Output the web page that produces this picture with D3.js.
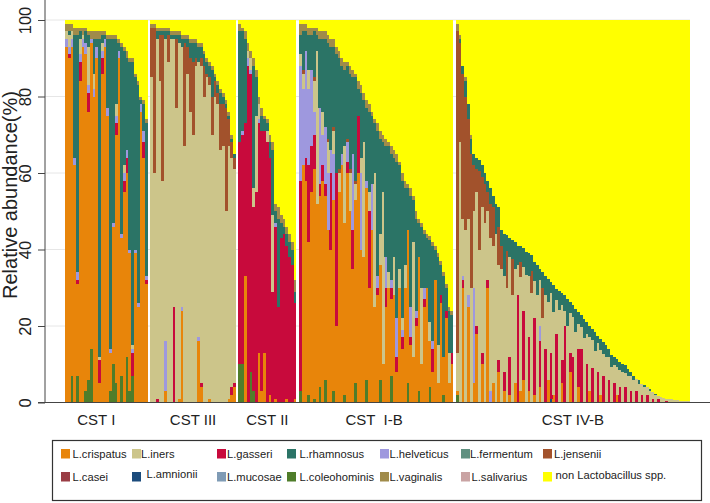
<!DOCTYPE html>
<html>
<head>
<meta charset="utf-8">
<script src="https://cdn.jsdelivr.net/npm/d3@7"></script>
<style>
body { margin: 0; background: #fff; }
svg { display: block; font-family: "Liberation Sans", Arial, sans-serif; }
</style>
</head>
<body>
<script>
// species in legend order (row by row) + one-letter codes used in the bar strings
var species = ["L.crispatus", "L.iners", "L.gasseri", "L.rhamnosus", "L.helveticus", "L.fermentum", "L.jensenii",
               "L.casei", "L.amnionii", "L.mucosae", "L.coleohominis", "L.vaginalis", "L.salivarius", "non Lactobacillus spp."];
var codes = ["C", "I", "G", "R", "H", "F", "J", "K", "A", "M", "O", "V", "S", "N"];
var colors = ["#e8850a", "#ccc58a", "#c80a3c", "#2b7466", "#9e98de", "#5f9080", "#a2522c",
              "#9a3d45", "#1b4b7c", "#7f9bb5", "#4f7d2a", "#a08b4a", "#c9a3a3", "#ffff00"];
// bottom -> top
var stackOrder = ["O", "A", "C", "G", "H", "I", "J", "R", "F", "M", "K", "S", "V", "N"];

var groups = ["CST I", "CST III", "CST II", "CST  I-B", "CST IV-B"];

// each sample: "<code><percent> ...", the rest up to 100 is non Lactobacillus
var cst1 = ["C93 H2 I2 V2", "C90 G1 H2 I3 R1 V2", "O7 C86 H2 I2 V2", "C62 H2 R32 V2", "O7 C24 G1 H2 R62 V2",
  "C84 G5 H2 I4 R2 V1", "C93 H2 I1 V2", "O3 C88 H3 R3 V1", "O6 C70 G5 H2 I10 R3 V1", "O14 C80 H1 V2",
  "C80 H2 I4 R9 V2", "C90 H3 R2 V2", "C5 G6 I1 R83 V2", "C86 G4 H2 I2 R2 V1", "C93 H2 R1 V1",
  "C75 H2 R18 V1", "O3 C10 H1 R81 V1", "O10 C36 H1 R48 V1", "O5 C65 G3 H2 I3 R17 V1", "C90 H2 R2 V1",
  "O7 C36 H1 R49 V1", "C55 G3 H2 I2 R30 V1", "O12 C48 G4 H2 R24 V2", "O3 C36 H1 R49 V1", "O7 G6 H1 I1 R74 V1",
  "C39 H1 R45 V1", "C25 H1 R57 V1", "C76 H2 R1 V1", "C64 G4 H3 R7 V1", "C31 G1 H1 R40 V1"];

var cst3 = ["I85 J13 V1", "I60 J38 V1", "G1 I94 R2 V1", "I84 J12 R1 V1", "I58 J38 R1 V1",
  "C3 H13 I79 R2 V1", "I89 J7 R1 V1", "I95 R1 V1", "G25 I70 R1 V1", "I77 J18 R1 V1",
  "C1 I93 R2 V1", "C24 H1 I68 R2 V1", "I67 J27 R1 V1", "I86 J7 R2 V1", "I76 J14 R4 V1",
  "I70 J19 R5 V1", "I88 J2 R4 V1", "C16 H1 I72 R4 V1", "C4 G1 I83 J2 R3 V1", "I80 J8 R3 V1",
  "I85 J1 R3 V1", "C1 I82 J2 R3 V1", "I70 J10 R7 V1", "I80 J4 R1 V1", "I78 J3 R2 V1",
  "I66 J12 R3 V1", "I67 J11 R2 V1", "I50 J27 R1 V1", "C1 I66 J7 R1 V1", "G2 C2 I60 J4 R1 V1",
  "C4 G1 I56 J3 R1"];

var cst2 = ["O10 G58 R29 V2", "O10 G60 H1 R26 V1", "C33 G40 R22 V2", "G88 H2 I2 V2", "O8 G78 H1 I3 V2",
  "O3 G48 I5 R32 V2", "G55 I20 R10 V2", "C13 G60 H1 I4 V2", "C3 G68 R4 V2", "C13 G58 R3 V1",
  "G68 I3 R2 V1", "C2 G62 R4 V2", "G29 I20 R17 V2", "C1 G45 H1 R3 V2", "G25 R23 V3",
  "G43 R4 V2", "G44 R2 V2", "C1 G40 R3 V2", "G38 R4 V2", "G36 R4 V2", "C1 G25 R3 V3"];

var cst1b = ["O3 G55 H30 I3 R5 V3", "C62 H20 I4 R10 J1 V2", "C58 G6 H28 R5 V2", "O2 C40 G20 H20 I5 R9 V2",
  "C55 G12 H20 R9 V2", "O1 C60 G9 H6 I8 R12 J1 V1", "C52 I40 R4 V2", "O4 C50 G3 H20 R18 V2",
  "C58 G4 H8 I6 R19 V2", "O6 C48 G3 H15 R23 V2", "C45 H15 I8 R25 J1 V2", "C40 G20 H6 R27 V2",
  "O3 C50 H12 I6 R21 J1 V2", "C20 G40 R31 V2", "C55 I5 R29 J1 V2", "C62 H3 R23 V2",
  "O2 C45 I20 R20 V2", "C60 G3 H5 R19 J1 V1", "C50 I10 R25 J1 V2", "C35 G10 H20 R20 V2",
  "O5 C48 I4 R27 J1 V1", "C60 G15 R7 V2", "C40 H20 I4 R17 V2", "C38 I30 R11 V2",
  "O6 C50 H2 R19 V2", "C30 G20 I5 R21 V2", "C45 H12 R18 V1", "C25 I35 R13 V1",
  "C28 G2 H3 R38 V2", "O6 C30 I8 R25 V2", "C10 I45 R13 V2", "C25 G5 H8 R29 V2",
  "C30 I4 R33 V1", "O7 C20 G3 H2 R33 V2", "C28 I10 R26 V2", "C8 G4 H10 R41 V2",
  "C30 I5 R27 V1", "C14 G3 H2 I3 R36 V2", "C30 I6 R20 V2", "O5 C40 R11 V1",
  "C15 G2 H8 R29 V2", "C12 I30 R11 V1", "C20 G2 H2 R24 V2", "O3 C35 R9 V1",
  "C10 I20 R16 V1", "C25 G2 H3 R14 V1", "C30 R13 V1", "O4 C12 I5 R21.5 V1",
  "C8 G6 H2 R25 V1", "C32 R8 V1", "C5 I10 R23 V1", "C26 G2 R8 V1",
  "O2 C10 R21 V1", "C22 G2 R6 V1", "C5 I8 R11 V1", "C10 G3 R10 V1"];

var cst4b = ["O2 C1 I10 J84 V2", "I68 J26 R1 V1", "C30 G2 H1 I15 J38 R2", "I45 J35 R4 V1", "C25 H3 I20 J26 R4",
  "I30 J35 R4 V1", "C5 H25 I20 J12 R3", "C18 G2 I35 J6 R3", "I40 J20.5 R3", "C10 G3 I38 J8 R3",
  "I47 J10 R3", "C30 G2 I18 J5 R3", "I40 H3 J9 R4", "C5 I36 J10 R3", "I44 R8",
  "C8 G3 I25 J10 R5", "I35 J6 R4", "C3 G5 I25 R11", "I30 J9.7 R4", "C2 G10 I26 R5",
  "I28 J9.5 R5", "C5 I30 R7", "G28 I8 R5", "C3 I29.8 J4 R4", "C6 G18 I11.5 R5",
  "I33.4 R6", "C3 G14 I16 R6", "I28.5 J6 R4", "C2 G20 I9.7 R5", "I28 R8",
  "C4 G12 H4 I12 R3", "I22 J8 R4", "G14 I14 R5", "C6 I20.4 R6", "G12 I15.5 R3 A1",
  "C2 I21.6 R7", "G18 I8.8 R3", "I24.2 R5", "C5 G6 I14.5 R3", "G20 I4 R4",
  "I20 R7", "C8 G5 I10.3 R3", "G12 I10.4 R3", "I18.5 R6", "C4 G10 I6.6 R3",
  "G14 I5.8 R3", "I16.9 R5", "G10 I8 R3", "C3 I14 R3", "G9 I7.3 R3",
  "I13.4 R5", "G8 I7.5 R2", "C2 I11.6 R3", "G7 I5.8 R3", "I12 R3",
  "G6 I6 R2", "I9.3 R3", "G5 I4.8 R2", "C2 I7.4 R2", "G4 I4.6 R2",
  "I8 R2", "G4 I3.7 R2", "I6.8 R2", "G3 I3.9 R1", "I6 R1",
  "G3 I3.2", "I4.8 R1", "G2 I2.9", "I4 R0.5", "G2 I2",
  "I3 R0.6", "G1 I1.7", "I2 R0.3", "G1 I0.8", "I1.4",
  "I1.2", "G0.5 I0.5", "I1", "I0.8", "I0.7",
  "I0.6", "I0.5", "I0.5", "I0.4", "I0.3"];

var groupBars = [cst1, cst3, cst2, cst1b, cst4b];
var yTicks = [0, 20, 40, 60, 80, 100];

//positioning/sizing
var W = 710, H = 503;
var plot = {left: 65, right: 690, top: 20, bottom: 402.5};
var labelNudge = [-10, 0, 0, -2, 0];

// build samples, with one empty slot between groups
var slots = [], samples = [];
groupBars.forEach(function(bars, g) {
  bars.forEach(function(s, i) {
    var d = {id: "g" + g + "_" + i, group: g};
    stackOrder.forEach(function(k) { d[k] = 0; });
    var tot = 0;
    s.split(" ").forEach(function(tok) {
      var v = +tok.slice(1);
      d[tok[0]] += v;
      tot += v;
    });
    d.N = Math.max(0, 100 - tot);
    samples.push(d);
    slots.push(d.id);
  });
  if (g < groupBars.length - 1) slots.push("gap" + g);
});

var x = d3.scaleBand().domain(slots).range([plot.left, plot.right]).padding(0);
var y = d3.scaleLinear().domain([0, 100]).range([plot.bottom, plot.top]);
var color = d3.scaleOrdinal().domain(codes).range(colors);

var svg = d3.select("body").append("svg")
    .attr("width", W)
    .attr("height", H);

// faint grid in the left margin
svg.append("g").selectAll("line")
   .data(yTicks.slice(1))
   .enter().append("line")
   .attr("x1", 45).attr("x2", plot.right)
   .attr("y1", d => y(d)).attr("y2", d => y(d))
   .attr("stroke", "#e6e6e6").attr("stroke-width", 1);

// stacked bars
var series = d3.stack().keys(stackOrder)(samples);
var bw = x.bandwidth();
svg.append("g")
   .attr("shape-rendering", "crispEdges")
   .selectAll("g")
   .data(series)
   .enter().append("g")
   .attr("fill", d => color(d.key))
   .selectAll("rect")
   .data(d => d.filter(p => p[1] - p[0] > 0))
   .enter().append("rect")
   .attr("x", d => x(d.data.id))
   .attr("width", bw + 0.2)
   .attr("y", d => y(d[1]))
   .attr("height", d => y(d[0]) - y(d[1]));

// axes
var axis_y = d3.axisLeft(y).tickValues(yTicks).tickSize(7).tickPadding(0);
var gy = svg.append("g")
   .attr("transform", "translate(45,0)")
   .call(axis_y);
gy.select(".domain").remove();
gy.selectAll(".tick line").attr("stroke", "#444");
gy.selectAll(".tick text")
  .attr("x", 0).attr("dy", 0)
  .attr("text-anchor", "middle")
  .attr("transform", "translate(-14,0) rotate(-90)")
  .attr("font-size", 16.5)
  .attr("font-family", "Liberation Sans, Arial, sans-serif")
  .attr("fill", "#222");

svg.append("line")
   .attr("x1", 45).attr("x2", 45)
   .attr("y1", 0).attr("y2", plot.bottom)
   .attr("stroke", "#444");
svg.append("line")
   .attr("x1", 38).attr("x2", W)
   .attr("y1", plot.bottom).attr("y2", plot.bottom)
   .attr("stroke", "#444");

svg.append("text")
   .attr("transform", "translate(17,195) rotate(-90)")
   .attr("text-anchor", "middle")
   .attr("font-size", 20)
   .attr("fill", "#222")
   .text("Relative abundance(%)");

// group labels
svg.append("g").selectAll("text")
   .data(groups)
   .enter().append("text")
   .attr("x", function(d, g) {
      var ids = samples.filter(s => s.group == g).map(s => s.id);
      return (x(ids[0]) + x(ids[ids.length - 1]) + bw) / 2 + labelNudge[g];
   })
   .attr("y", 425)
   .attr("text-anchor", "middle")
   .attr("font-size", 15)
   .attr("fill", "#222")
   .style("white-space", "pre")
   .text(d => d);

// legend
var legX = [61, 132, 217, 287, 380, 461, 543];
var legTextX = [72.5, 141, 227, 299.5, 389.5, 470, 554];
var legRowY = [449, 472];
var legDx = {"L.amnionii": 5.5, "L.salivarius": 1.5, "non Lactobacillus spp.": 1.5};
var legDy = {"L.amnionii": -3, "non Lactobacillus spp.": -2};

svg.append("rect")
   .attr("x", 52.5).attr("y", 440.5)
   .attr("width", 649).attr("height", 60)
   .attr("fill", "none").attr("stroke", "#333").attr("stroke-width", 1.2);

var leg = svg.append("g").selectAll("g")
   .data(species)
   .enter().append("g");
leg.append("rect")
   .attr("x", (d, i) => legX[i % 7])
   .attr("y", (d, i) => legRowY[Math.floor(i / 7)])
   .attr("width", 9).attr("height", 9.5)
   .attr("fill", (d, i) => colors[i]);
leg.append("text")
   .attr("x", (d, i) => legTextX[i % 7] + (legDx[d] || 0))
   .attr("y", (d, i) => legRowY[Math.floor(i / 7)] + 8.5 + (legDy[d] || 0))
   .attr("font-size", 11.2)
   .attr("fill", "#222")
   .text(d => d);
</script>
</body>
</html>
